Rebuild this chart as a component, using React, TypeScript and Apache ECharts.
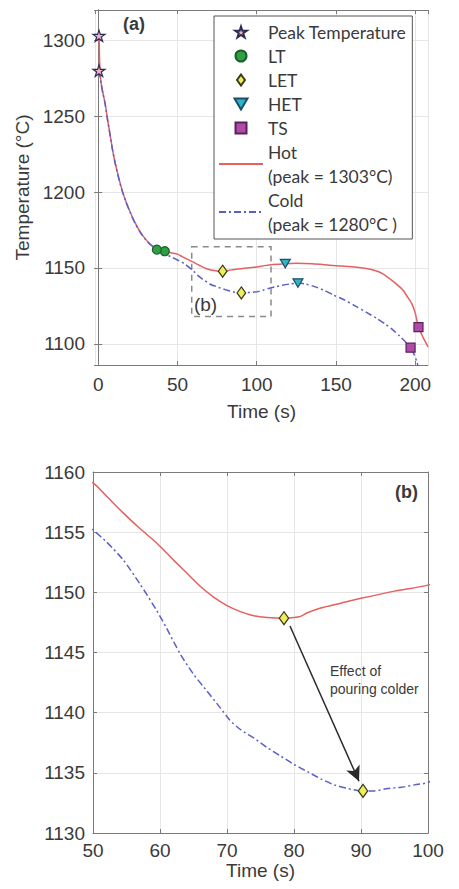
import React, { useEffect, useRef } from 'react';
import * as echarts from 'echarts';

// Hot pour curve: [time (s), temperature (°C)]
const hotCurve: [number, number][] = [
  [0.5, 1303], [0.7, 1295], [0.9, 1286], [1.2, 1279], [2, 1271], [3, 1265.3], [4.4, 1258.3],
  [6, 1247.3], [7.6, 1237.3], [9, 1228.3], [10.7, 1219.3], [12.5, 1211.3], [14.9, 1201.9],
  [17.5, 1193.8], [20.2, 1186.8], [23, 1180.3], [26.5, 1173.8], [30, 1168.8], [33, 1165.6],
  [37, 1162.6], [42, 1161], [46, 1160], [50, 1159.1], [52, 1158], [54.5, 1156.6], [57, 1155.3],
  [59.5, 1154.1], [62, 1152.7], [64, 1151.6], [66, 1150.5], [68, 1149.6], [70, 1148.9],
  [72, 1148.4], [74, 1148.05], [76, 1147.9], [78.5, 1147.85], [80, 1147.9], [81, 1148],
  [82, 1148.3], [84, 1148.7], [87, 1149.1], [90, 1149.5], [95, 1150.1], [100, 1150.6],
  [105, 1151.5], [110, 1152.2], [118, 1152.8], [125, 1153], [135, 1152.7], [148, 1151.6],
  [160, 1150.8], [170, 1149.5], [176, 1147.8], [180, 1145.8], [184, 1142.8], [188, 1139.5],
  [192, 1135.6], [195, 1131], [198, 1126], [200, 1120], [202, 1111], [205, 1104], [208, 1098]
];

// Cold pour curve
const coldCurve: [number, number][] = [
  [0.5, 1280], [1, 1276.5], [2, 1270.5], [3, 1265], [4.4, 1258], [6, 1247], [7.6, 1237],
  [9, 1228], [10.7, 1219], [12.5, 1211], [14.9, 1201.6], [17.5, 1193.5], [20.2, 1186.5],
  [23, 1180], [26.5, 1173.5], [30, 1168.5], [33, 1165.3], [37, 1162.2], [40, 1160.5],
  [43, 1158.8], [46, 1157.3], [50, 1155.2], [52, 1154.2], [54.5, 1152.7], [57, 1150.7],
  [59.5, 1148.5], [61, 1147], [63, 1144.9], [65, 1143.2], [67, 1141.8], [69, 1140.4],
  [70.4, 1139.4], [72, 1138.6], [74, 1137.9], [76, 1137.1], [78, 1136.4], [80, 1135.7],
  [82, 1135.1], [84, 1134.5], [86, 1134], [88, 1133.7], [90, 1133.5], [92, 1133.5],
  [94, 1133.7], [96, 1133.8], [98, 1134], [100, 1134.2], [104, 1135.3], [108, 1136.6],
  [112, 1137.6], [116, 1138.5], [121, 1139.4], [126, 1140], [131, 1139.4], [137, 1137.5],
  [143, 1135], [148, 1132.3], [155, 1129], [162, 1125], [169.5, 1120.5], [176, 1116.5],
  [181, 1113], [186, 1109], [190, 1105.2], [194, 1101], [197, 1097.4], [199, 1093.5],
  [201, 1088], [202, 1084]
];

// Event markers: [hot, cold]
const peakPoints: [number, number][] = [[0.5, 1303], [0.5, 1280]];
const ltPoints: [number, number][] = [[42, 1161], [37, 1162]];
const letPoints: [number, number][] = [[78.5, 1147.85], [90.3, 1133.5]];
const hetPoints: [number, number][] = [[118, 1152.8], [126, 1140]];
const tsPoints: [number, number][] = [[202, 1111], [197, 1097.4]];

// Zoom box drawn in (a) and the arrow in (b)
const zoomBox: [number, number][] = [[59, 1164], [109, 1118]];
const arrowLine: [number, number][] = [[79.4, 1147.2], [89.7, 1134.3]];

const legendNames = ['Peak Temperature', 'LT', 'LET', 'HET', 'TS', 'Hot', 'Cold'];
const legendLabels: Record<string, string> = {
  'Peak Temperature': 'Peak Temperature',
  LT: 'LT',
  LET: 'LET',
  HET: 'HET',
  TS: 'TS',
  Hot: 'Hot\n(peak = 1303°C)',
  Cold: 'Cold\n(peak = 1280°C )'
};

const STAR =
  'path://M0,-100 L22.45,-30.9 L95.1,-30.9 L36.3,11.8 L58.8,80.9 L0,38.2 L-58.8,80.9 L-36.3,11.8 L-95.1,-30.9 L-22.45,-30.9 Z';
const DIAMOND = 'path://M0,-100 L72,0 L0,100 L-72,0 Z';
const TRI_DOWN = 'path://M-100,-80 L100,-80 L0,90 Z';
const SQUARE = 'path://M0,0 L100,0 L100,100 L0,100 Z';

const FONT = '"Liberation Sans", Arial, sans-serif';
const TXT = '#3a3a3a';
const AXIS = '#7a7a7a';
const GRIDC = '#e6e6e6';
const HOT = '#e5605e';
const COLD = '#5a5fc8';
const SMOOTH = 0.25;

const plain = (v: number) => String(v);

function xAxes(gridIndex: number, min: number, max: number, opts: any) {
  const common = {
    gridIndex, type: 'value', min, max,
    axisLine: { show: true, lineStyle: { color: AXIS, width: 1 } },
    axisTick: { show: true, inside: true, length: 4, lineStyle: { color: AXIS } },
  };
  return [
    {
      ...common, position: 'bottom', ...opts,
      axisLabel: { color: TXT, fontSize: 19, fontFamily: FONT, margin: opts.labelMargin, showMinLabel: opts.showEnds, showMaxLabel: opts.showEnds, formatter: plain },
      splitLine: { show: true, lineStyle: { color: GRIDC, width: 1 } },
      nameLocation: 'middle', nameTextStyle: { color: TXT, fontSize: 19, fontFamily: FONT },
    },
    {
      ...common, position: 'top', splitNumber: opts.splitNumber, interval: opts.interval,
      axisLabel: { show: false }, splitLine: { show: false },
    },
  ];
}

function yAxes(gridIndex: number, min: number, max: number, opts: any) {
  const common = {
    gridIndex, type: 'value', min, max,
    axisLine: { show: true, lineStyle: { color: AXIS, width: 1 } },
    axisTick: { show: true, inside: true, length: 4, lineStyle: { color: AXIS } },
  };
  return [
    {
      ...common, position: 'left', ...opts,
      axisLabel: { color: TXT, fontSize: 19, fontFamily: FONT, margin: opts.labelMargin, showMinLabel: opts.showEnds, showMaxLabel: opts.showEnds, formatter: plain },
      splitLine: { show: true, lineStyle: { color: GRIDC, width: 1 } },
      nameLocation: 'middle', nameTextStyle: { color: TXT, fontSize: 19, fontFamily: FONT },
    },
    {
      ...common, position: 'right', splitNumber: opts.splitNumber, interval: opts.interval,
      axisLabel: { show: false }, splitLine: { show: false },
    },
  ];
}

function scatter(name: string, data: [number, number][], symbol: string, size: any, fill: string, border: string, xi = 0, yi = 0) {
  return {
    name, type: 'scatter', xAxisIndex: xi, yAxisIndex: yi, data,
    symbol, symbolSize: size, symbolKeepAspect: true, z: 5,
    itemStyle: { color: fill, borderColor: border, borderWidth: 1.2, opacity: 1 },
  };
}

export default function App() {
  const ref = useRef<HTMLDivElement>(null);
  useEffect(() => {
    if (!ref.current) return;
    const chart = echarts.init(ref.current, undefined, { renderer: 'svg' });
    const option: any = {
      animation: false,
      backgroundColor: '#fff',
      grid: [
        { left: 95, top: 10, right: 31, height: 355 },
        { left: 93, top: 472, right: 31, height: 361 },
      ],
      xAxis: [
        ...xAxes(0, -2, 208, { splitNumber: 5, showEnds: false, labelMargin: 10, name: 'Time (s)', nameGap: 37 }),
        ...xAxes(1, 50, 100, { interval: 10, showEnds: true, labelMargin: 8, name: 'Time (s)', nameGap: 26 }),
      ],
      yAxis: [
        ...yAxes(0, 1086, 1320, { splitNumber: 5, showEnds: false, labelMargin: 10, name: 'Temperature (°C)', nameGap: 58 }),
        ...yAxes(1, 1130, 1160, { interval: 5, showEnds: true, labelMargin: 8 }),
      ],
      legend: {
        data: legendNames.map((n) =>
          n === 'Hot' || n === 'Cold' ? { name: n, itemStyle: { opacity: 0 } } : { name: n }
        ),
        orient: 'vertical',
        left: 214, top: 16,
        itemWidth: 44, itemHeight: 11, itemGap: 0,
        padding: [4, 6, 3, 4],
        borderColor: '#555', borderWidth: 1, backgroundColor: '#fff',
        textStyle: { fontFamily: 'Lato, sans-serif', fontSize: 17.5, color: TXT, lineHeight: 24 },
        formatter: (n: string) => legendLabels[n] ?? n,
      },
      series: [
        {
          name: 'Hot', type: 'line', xAxisIndex: 0, yAxisIndex: 0, data: hotCurve,
          symbol: 'none', showSymbol: false, smooth: SMOOTH,
          lineStyle: { color: HOT, width: 1.5 }, itemStyle: { color: HOT },
          markArea: {
            silent: true,
            itemStyle: { color: 'rgba(0,0,0,0)', borderColor: '#8a8a8a', borderWidth: 1.5, borderType: [6, 5] },
            label: { show: true, position: 'insideBottomLeft', distance: 3, formatter: '(b)', color: TXT, fontSize: 19, fontFamily: FONT },
            data: [[{ coord: zoomBox[0] }, { coord: zoomBox[1] }]],
          },
        },
        {
          name: 'Cold', type: 'line', xAxisIndex: 0, yAxisIndex: 0, data: coldCurve,
          symbol: 'none', showSymbol: false, smooth: SMOOTH,
          lineStyle: { color: COLD, width: 1.5, type: [7, 3, 2, 3] }, itemStyle: { color: COLD },
        },
        scatter('Peak Temperature', peakPoints, STAR, 12, '#f3b3c6', '#2b2b55'),
        scatter('LT', ltPoints, 'circle', 9, '#2f9e44', '#1b5e2a'),
        scatter('LET', letPoints, DIAMOND, 12, '#eeee5a', '#3a3a20'),
        scatter('HET', hetPoints, TRI_DOWN, 10, '#2fb4c0', '#1d4d6e'),
        scatter('TS', tsPoints, SQUARE, 9, '#b04ca6', '#5a2060'),
        {
          name: 'Hot (b)', type: 'line', xAxisIndex: 2, yAxisIndex: 2, data: hotCurve,
          symbol: 'none', showSymbol: false, smooth: SMOOTH,
          lineStyle: { color: HOT, width: 1.5 },
        },
        {
          name: 'Cold (b)', type: 'line', xAxisIndex: 2, yAxisIndex: 2, data: coldCurve,
          symbol: 'none', showSymbol: false, smooth: SMOOTH,
          lineStyle: { color: COLD, width: 1.5, type: [7, 3, 2, 3] },
          markLine: {
            silent: true, symbol: ['none', 'arrow'], symbolSize: [11, 15],
            lineStyle: { color: '#2a2a2a', width: 1.5, type: 'solid' },
            label: { show: false },
            data: [[{ coord: arrowLine[0] }, { coord: arrowLine[1] }]],
          },
        },
        scatter('LET (b)', letPoints, DIAMOND, 13, '#eeee5a', '#3a3a20', 2, 2),
      ],
      graphic: [
        { type: 'text', x: 123, y: 15, style: { text: '(a)', fontSize: 18, fontWeight: 'bold', fontFamily: FONT, fill: TXT } },
        { type: 'text', x: 395, y: 483, style: { text: '(b)', fontSize: 18, fontWeight: 'bold', fontFamily: FONT, fill: TXT } },
        { type: 'text', x: 330, y: 662, style: { text: 'Effect of\npouring colder', fontSize: 14, lineHeight: 18, fontFamily: FONT, fill: TXT } },
      ],
    };
    chart.setOption(option);
    return () => chart.dispose();
  }, []);
  return <div ref={ref} style={{ position: 'fixed', left: 0, top: 0, width: 459, height: 889, background: '#fff' }} />;
}
